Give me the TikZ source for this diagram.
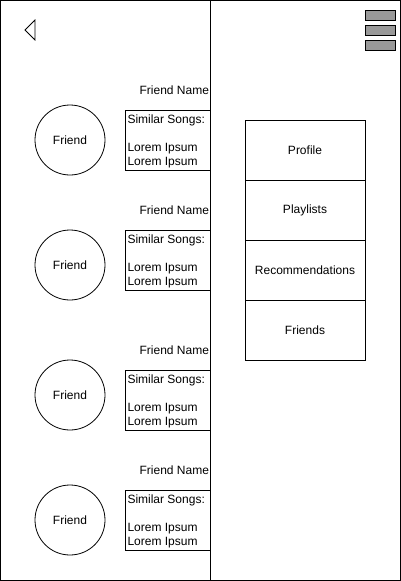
\documentclass[tikz,border=0pt]{standalone}
\usepackage{fontspec}
\setmainfont{Liberation Sans}
\definecolor{bargray}{HTML}{999999}
\begin{document}
\begin{tikzpicture}[x=1pt,y=-1pt,line width=0.8pt,
  every node/.style={font=\fontsize{12}{14}\selectfont,outer sep=0pt},
  menuitem/.style={draw,rectangle,minimum width=120pt,minimum height=60pt,inner sep=0pt},
  bar/.style={draw,fill=bargray,rectangle,minimum width=30pt,minimum height=10pt,inner sep=0pt},
  avatar/.style={draw,circle,minimum size=70pt,inner sep=0pt},
  songbox/.style={draw,rectangle,minimum width=85pt,minimum height=60pt,inner sep=0pt},
  songtext/.style={anchor=west,inner sep=2pt,align=left,yshift=-1.5pt}]
\useasboundingbox (0,0) rectangle (401,581);
\draw (0.5,0.5) rectangle (400.5,580.5);
\draw (210.5,0.5) -- (210.5,580.5);
% back arrow
\draw (35,20) -- (25,30) -- (35,40) -- cycle;
% menu button
\node[bar] (bar1) at (380,15) {};
\node[bar] (bar2) at (380,30) {};
\node[bar] (bar3) at (380,45) {};
% side menu
\node[menuitem] (profile) at (305,150) {Profile};
\node[menuitem] (playlists) at (305,210) {Playlists};
\node[menuitem] (recs) at (305,270) {Recommendations};
\node[menuitem] (friends) at (305,330) {Friends};
% friend list
\foreach \i/\c/\t/\n in {1/140/110/90,2/265/230/210,3/395/370/350,4/520/490/470}{
  \node[avatar] (friend\i) at (70,\c) {Friend};
  \node[songbox] (songs\i) at (168,\t+30) {};
  \node[songtext] (songtext\i) at (songs\i.west) {Similar Songs:\\[14pt]Lorem Ipsum\\Lorem Ipsum};
  \node[anchor=east,inner sep=1pt] (fname\i) at (210,\n) {Friend Name};
}
\end{tikzpicture}
\end{document}
